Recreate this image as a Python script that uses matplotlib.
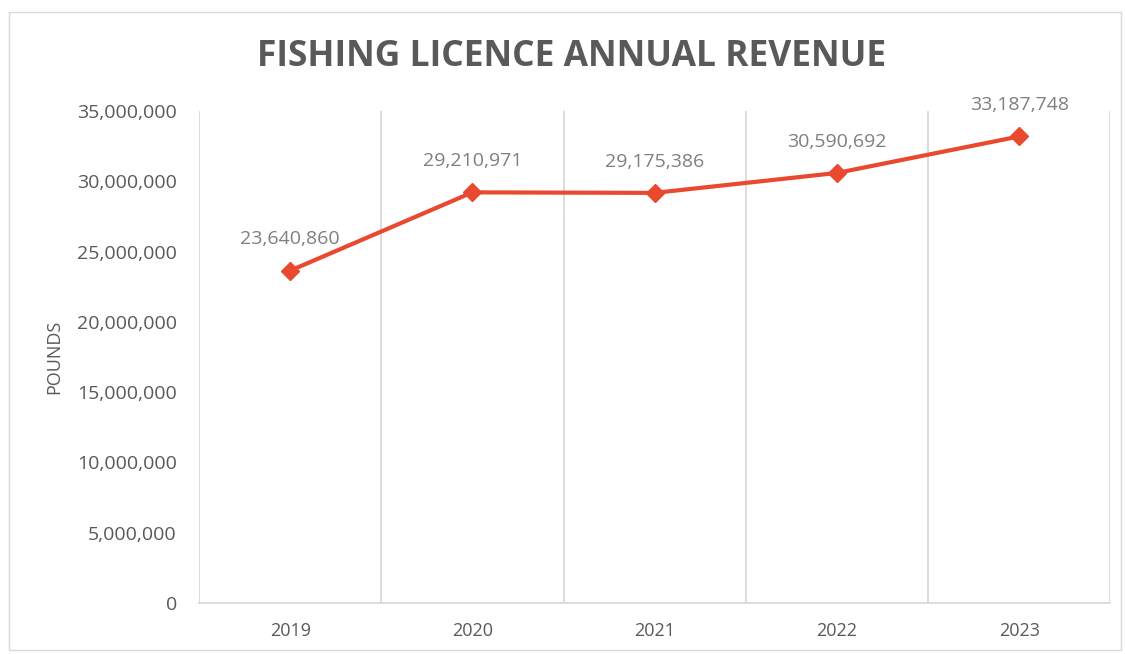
import matplotlib.pyplot as plt
from matplotlib.patches import Rectangle
from matplotlib.ticker import FuncFormatter

plt.rcParams['font.family'] = ['Open Sans', 'DejaVu Sans']

years = ['2019', '2020', '2021', '2022', '2023']
revenue = [23640860, 29210971, 29175386, 30590692, 33187748]

line_col = '#E8492F'
txt_col = '#595959'
grid_col = '#D9D9D9'

fig = plt.figure(figsize=(11.25, 6.54), dpi=100)
ax = fig.add_axes([0.1769, 0.078, 0.81, 0.7523])

x = list(range(len(years)))
ax.plot(x, revenue, color=line_col, lw=3, marker='D', ms=9, zorder=3)

for xi, v in zip(x, revenue):
    ax.annotate(f'{v:,}', (xi, v), xytext=(0, 16), textcoords='offset points',
                ha='center', va='bottom', fontsize=14, color='#7F7F7F')

ax.set_xlim(-0.5, len(years) - 0.5)
ax.set_ylim(0, 35000000)
ax.set_yticks(range(0, 35000001, 5000000))
ax.yaxis.set_major_formatter(FuncFormatter(lambda v, p: f'{int(v):,}'))
ax.set_xticks(x)
ax.set_xticklabels(years)

# vertical gridlines sit between the categories
ax.set_xticks([i - 0.5 for i in range(len(years) + 1)], minor=True)
ax.grid(which='minor', axis='x', color=grid_col, lw=1.3)
ax.tick_params(axis='both', which='both', length=0)
ax.tick_params(axis='y', labelsize=14, labelcolor=txt_col, pad=16)
ax.tick_params(axis='x', labelsize=13, labelcolor=txt_col, pad=14)

for s in ['top', 'right', 'left']:
    ax.spines[s].set_visible(False)
ax.spines['bottom'].set_color(grid_col)
ax.spines['bottom'].set_linewidth(1.3)

ax.set_ylabel('POUNDS', fontsize=13, color=txt_col, labelpad=10)

fig.text(0.508, 0.913, 'FISHING LICENCE ANNUAL REVENUE', ha='center', va='center',
         fontsize=25.5, fontweight='bold', color=txt_col)

# chart border
fig.patches.append(Rectangle((9 / 1125, 4 / 654), 1112 / 1125, 638 / 654,
                             transform=fig.transFigure, fill=False,
                             edgecolor=grid_col, lw=1))

fig.savefig('out.png', dpi=100)
